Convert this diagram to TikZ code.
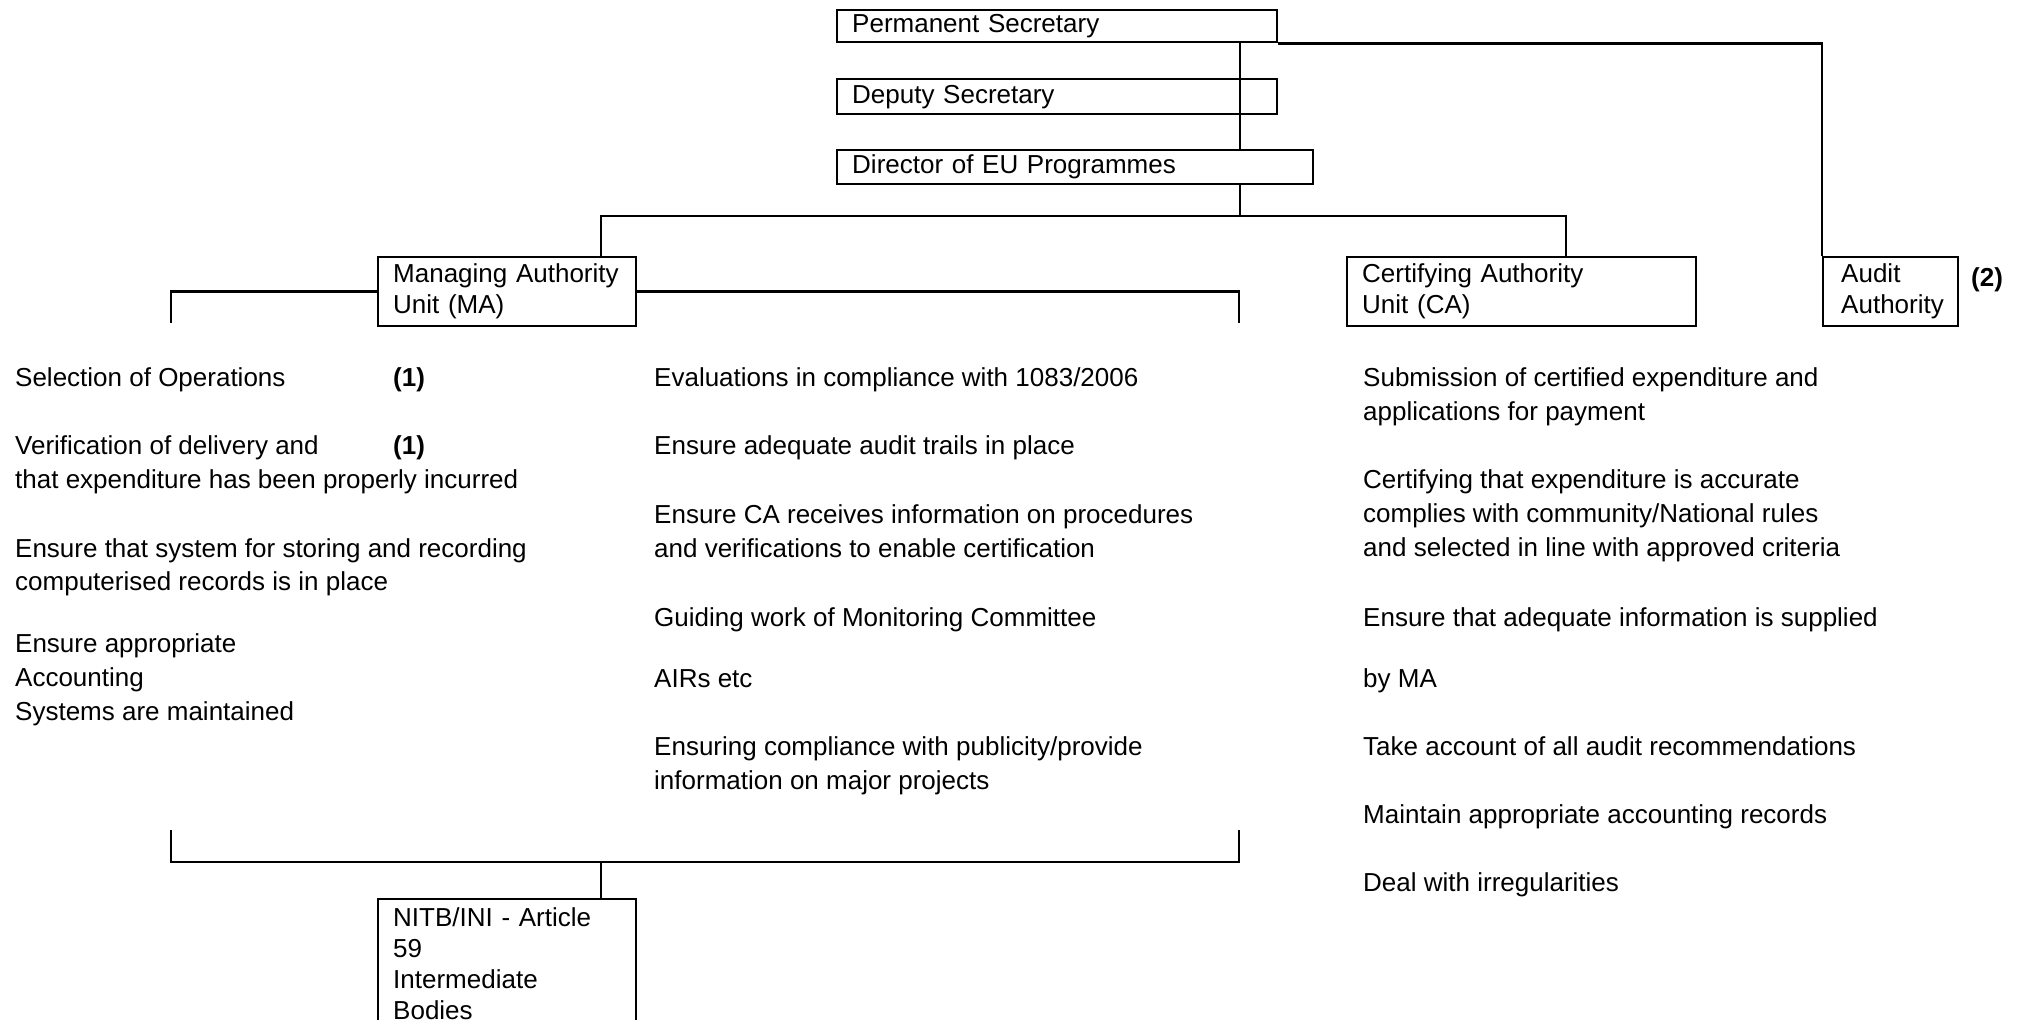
\documentclass[tikz,border=0pt]{standalone}
\usepackage{fontspec}
\setmainfont{Liberation Sans}
\begin{document}
\begin{tikzpicture}[x=0.5pt,y=-0.5pt,line width=1.2pt,
  box/.style={draw, line width=1.2pt, anchor=north west, inner xsep=7.5pt, inner ysep=0pt, align=left, font=\fontsize{13}{15.5}\selectfont},
  item/.style={anchor=base west, inner sep=0pt, align=left, font=\fontsize{13}{17}\selectfont},
  tag/.style={anchor=base west, inner sep=0pt, font=\fontsize{13}{17}\selectfont\bfseries}]
\useasboundingbox (0,0) rectangle (2017,1020);
\clip (0,0) rectangle (2017,1020);

% boxes
\node[box, text width=205pt, minimum height=16pt] (perm) at (836,9) {Permanent Secretary};
\node[box, text width=205pt, minimum height=17.5pt] (deputy) at (836,78) {Deputy Secretary};
\node[box, text width=223pt, minimum height=17pt] (director) at (836,149) {Director of EU Programmes};
\node[box, text width=114pt, minimum height=34.5pt] (ma) at (377,256) {Managing Authority\\Unit (MA)};
\node[box, text width=159.5pt, minimum height=34.5pt] (ca) at (1346,256) {Certifying Authority\\Unit (CA)};
\node[box, text width=55.5pt, minimum height=34.5pt, inner xsep=6pt] (audit) at (1822,256) {\mbox{\hspace{3pt}Audit}\\\mbox{\hspace{3pt}Authority}};
\node[box, text width=114pt, minimum height=65pt] (nitb) at (377,898) {NITB/INI - Article\\59\\Intermediate\\Bodies};
\node[tag] (two) at (1970,287) {(2)};

% junction coordinates
\coordinate (trunk) at (1240,216);
\coordinate (maT) at (601,216);
\coordinate (caT) at (1566,216);
\coordinate (malb) at (171,323);
\coordinate (marb) at (1239,323);
\coordinate (bl) at (171,830);
\coordinate (br) at (1239,830);
\coordinate (nitbT) at (601,862);

% connectors
\draw (trunk |- perm.south) -- (trunk |- director.north);
\draw (trunk |- director.south) -- (trunk);
\draw (maT |- ma.north) -- (maT) -- (caT) -- (caT |- ca.north);
\draw (perm.south east) -| (audit.north west);
\draw (malb) |- (ma.west);
\draw (ma.east) -| (marb);
\draw (bl) -- (bl |- nitbT) -- (br |- nitbT) -- (br);
\draw (nitbT) -- (nitbT |- nitb.north);

% left column (anchors at baseline of last line)
\node[item] (l1) at (14,387) {Selection of Operations};
\node[tag] (l1t) at (392,387) {(1)};
\node[item] (l2) at (14,489) {Verification of delivery and\\that expenditure has been properly incurred};
\node[tag] (l2t) at (392,455) {(1)};
\node[item] (l3) at (14,591) {Ensure that system for storing and recording\\computerised records is in place};
\node[item] (l4) at (14,720) {Ensure appropriate\\Accounting\\Systems are maintained};

% middle column
\node[item] (m1) at (653,387) {Evaluations in compliance with 1083/2006};
\node[item] (m2) at (653,455) {Ensure adequate audit trails in place};
\node[item] (m3) at (653,558) {Ensure CA receives information on procedures\\and verifications to enable certification};
\node[item] (m4) at (653,626) {Guiding work of Monitoring Committee};
\node[item] (m5) at (653,688) {AIRs etc};
\node[item] (m6) at (653,789) {Ensuring compliance with publicity/provide\\information on major projects};

% right column
\node[item] (r1) at (1362,421) {Submission of certified expenditure and\\applications for payment};
\node[item] (r2) at (1362,557) {Certifying that expenditure is accurate\\complies with community/National rules\\and selected in line with approved criteria};
\node[item] (r3) at (1362,626) {Ensure that adequate information is supplied};
\node[item] (r4) at (1362,688) {by MA};
\node[item] (r5) at (1362,755) {Take account of all audit recommendations};
\node[item] (r6) at (1362,823) {Maintain appropriate accounting records};
\node[item] (r7) at (1362,891) {Deal with irregularities};
\end{tikzpicture}
\end{document}
